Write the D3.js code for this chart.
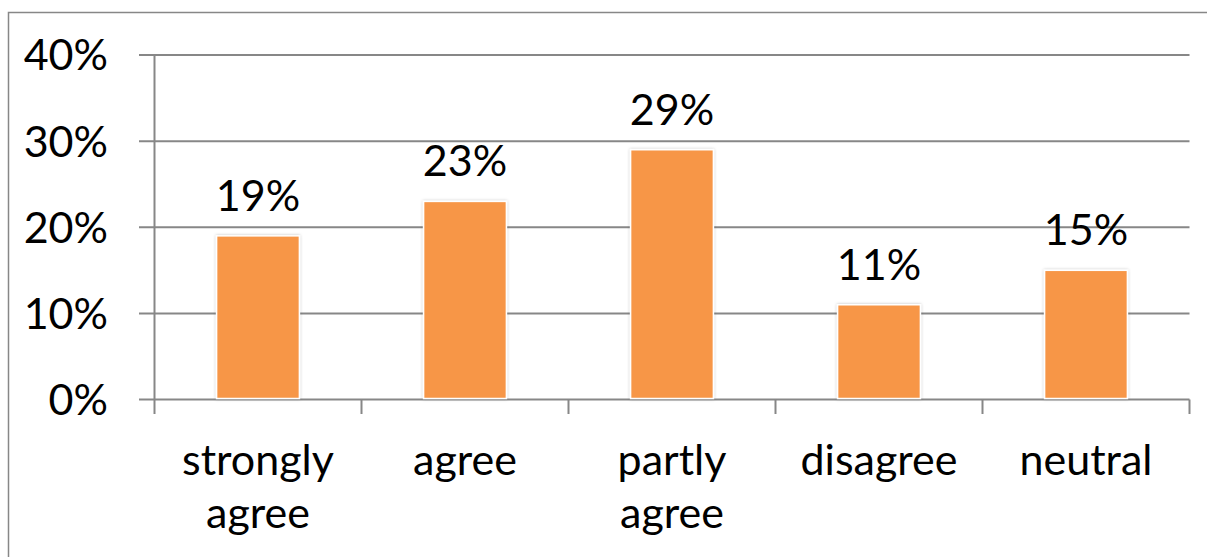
<!DOCTYPE html>
<html><head><meta charset="utf-8">
<script src="https://cdn.jsdelivr.net/npm/d3@7"></script>
<style>html,body{margin:0;padding:0;background:#fff;}svg{display:block;}</style>
</head><body>
<svg id="chart" width="1207" height="557"></svg>
<script>
const categories = [["strongly","agree"],["agree"],["partly","agree"],["disagree"],["neutral"]];
const values = [0.19, 0.23, 0.29, 0.11, 0.15];
const yTicks = [0, 0.1, 0.2, 0.3, 0.4];

const svg = d3.select("#chart");
const font = "Lato, 'Open Sans', sans-serif";
const fs = 43;
const gray = "#878787";

// outer border
svg.append("rect").attr("x", 8.5).attr("y", 12.5).attr("width", 1210).attr("height", 560)
  .attr("fill", "#fff").attr("stroke", gray).attr("stroke-width", 1.5);

const x = d3.scaleBand().domain(d3.range(categories.length)).range([154.5, 1189.5]).paddingInner(0.6).paddingOuter(0.3);
const xOuter = d3.scaleBand().domain(d3.range(categories.length)).range([154.5, 1189.5]);
const y = d3.scaleLinear().domain([0, 0.4]).range([399.5, 55]);

const defs = svg.append("defs");
const f = defs.append("filter").attr("id", "sh").attr("x", "-20%").attr("y", "-20%").attr("width", "140%").attr("height", "140%");
f.append("feDropShadow").attr("dx", 0).attr("dy", 0).attr("stdDeviation", 1.5).attr("flood-color", "#000").attr("flood-opacity", 0.25);

// gridlines with ticks extending left
const gy = svg.append("g").attr("transform", "translate(139,0)");
gy.selectAll("line.grid").data(yTicks).join("line")
  .attr("x1", 0).attr("x2", 1189.5 - 139)
  .attr("y1", d => y(d)).attr("y2", d => y(d))
  .attr("stroke", gray).attr("stroke-width", 2);

// y-axis labels
svg.append("g").selectAll("text").data(yTicks).join("text")
  .attr("x", 108).attr("y", d => y(d)).attr("dy", "0.36em")
  .attr("text-anchor", "end").attr("font-family", font).attr("font-size", fs).attr("fill", "#000")
  .text(d3.format(".0%"));

// vertical axis line
svg.append("line").attr("x1", 154.5).attr("x2", 154.5).attr("y1", y(0.4)).attr("y2", 414)
  .attr("stroke", gray).attr("stroke-width", 2);

// x-axis ticks at band boundaries
const bounds = d3.range(categories.length + 1).map(i => i < categories.length ? xOuter(i) : xOuter(i - 1) + xOuter.bandwidth());
svg.append("g").selectAll("line").data(bounds.slice(1)).join("line")
  .attr("x1", d => d).attr("x2", d => d).attr("y1", y(0)).attr("y2", 414)
  .attr("stroke", gray).attr("stroke-width", 2);

// bars
svg.append("g").selectAll("rect").data(values).join("rect")
  .attr("x", (d, i) => x(i)).attr("width", x.bandwidth())
  .attr("y", d => y(d)).attr("height", d => y(0) - y(d) - 1)
  .attr("fill", "#F79646").attr("stroke", "#fff").attr("stroke-width", 1.5)
  .attr("filter", "url(#sh)");

// data labels
svg.append("g").selectAll("text").data(values).join("text")
  .attr("x", (d, i) => x(i) + x.bandwidth() / 2).attr("y", d => y(d) - 25)
  .attr("text-anchor", "middle").attr("font-family", font).attr("font-size", fs).attr("fill", "#000")
  .text(d => d3.format(".0%")(d));

// category labels
const cl = svg.append("g").selectAll("text").data(categories).join("text")
  .attr("x", (d, i) => xOuter(i) + xOuter.bandwidth() / 2).attr("y", 475)
  .attr("text-anchor", "middle").attr("font-family", font).attr("font-size", fs).attr("fill", "#000");
cl.selectAll("tspan").data(d => d).join("tspan")
  .attr("x", function() { return d3.select(this.parentNode).attr("x"); })
  .attr("dy", (d, j) => j === 0 ? 0 : 53)
  .text(d => d);
</script>
</body></html>
